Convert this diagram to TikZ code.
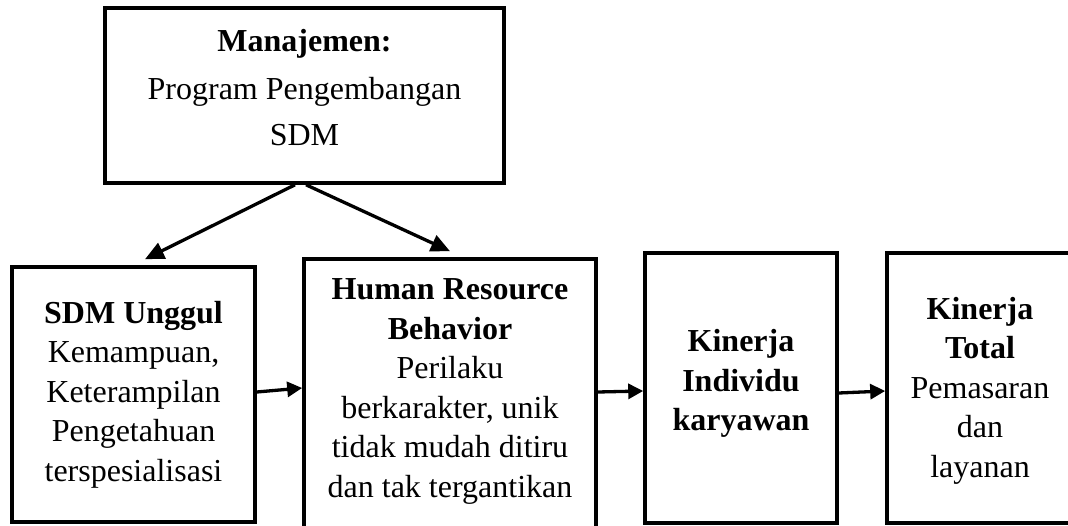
\documentclass[tikz,border=0pt]{standalone}
\usepackage{fontspec}
\setmainfont{Liberation Serif}
\usetikzlibrary{calc,arrows.meta}
\begin{document}
\begin{tikzpicture}[x=1pt,y=-1pt,
  box/.style={draw=black, line width=3.6pt, inner sep=0pt},
  txt/.style={align=center, font=\fontsize{32}{39.5}\selectfont, inner sep=0pt},
  headtxt/.style={align=center, font=\fontsize{32}{46}\selectfont, inner sep=0pt},
  link/.style={line width=3.3pt, -{Triangle[length=19pt,width=17pt]}},
  flow/.style={line width=3.3pt, -{Triangle[length=15pt,width=15pt]}}]
\useasboundingbox (0,0) rectangle (1068,526);
\clip (0,0) rectangle (1068,526);

% boxes
\node[box, minimum width=399pt, minimum height=175pt] (top) at (304.5,95.5) {};
\node[box, minimum width=243pt, minimum height=255pt] (sdm) at (133.5,394.5) {};
\node[box, minimum width=292pt, minimum height=281pt] (hrb) at (450,399.5) {};
\node[box, minimum width=192pt, minimum height=270pt] (ki) at (741,388) {};
\node[box, minimum width=186pt, minimum height=270pt] (kt) at (980,388) {};

% texts
\node[headtxt] (toptxt) at (304.5,88) {\textbf{Manajemen:}\\[2pt]Program Pengembangan\\SDM};
\node[txt] (sdmtxt) at (133.5,394.5) {\textbf{SDM Unggul}\\Kemampuan,\\Keterampilan\\Pengetahuan\\terspesialisasi};
\node[txt] (hrbtxt) at (450,391.7) {\textbf{Human Resource}\\\textbf{Behavior}\\Perilaku\\berkarakter, unik\\tidak mudah ditiru\\dan tak tergantikan};
\node[txt] (kitxt) at (741,383.7) {\textbf{Kinerja}\\\textbf{Individu}\\\textbf{karyawan}};
\node[txt] (kttxt) at (980,390.7) {\textbf{Kinerja}\\\textbf{Total}\\Pemasaran\\dan\\layanan};

% connectors
\draw[link] ($(top.south)+(-9.5,0)$) -- ($(sdm.north)+(11.5,-6)$);
\draw[link] ($(top.south)+(1.5,0)$) -- ($(hrb.north)+(0,-6)$);
\draw[flow] ($(sdm.east)+(0,-2.5)$) -- ($(hrb.west)+(0,-11.5)$);
\draw[flow] ($(hrb.east)+(0,-7.5)$) -- ($(ki.west)+(0,3)$);
\draw[flow] ($(ki.east)+(0,5)$) -- ($(kt.west)+(0,3)$);
\end{tikzpicture}
\end{document}
